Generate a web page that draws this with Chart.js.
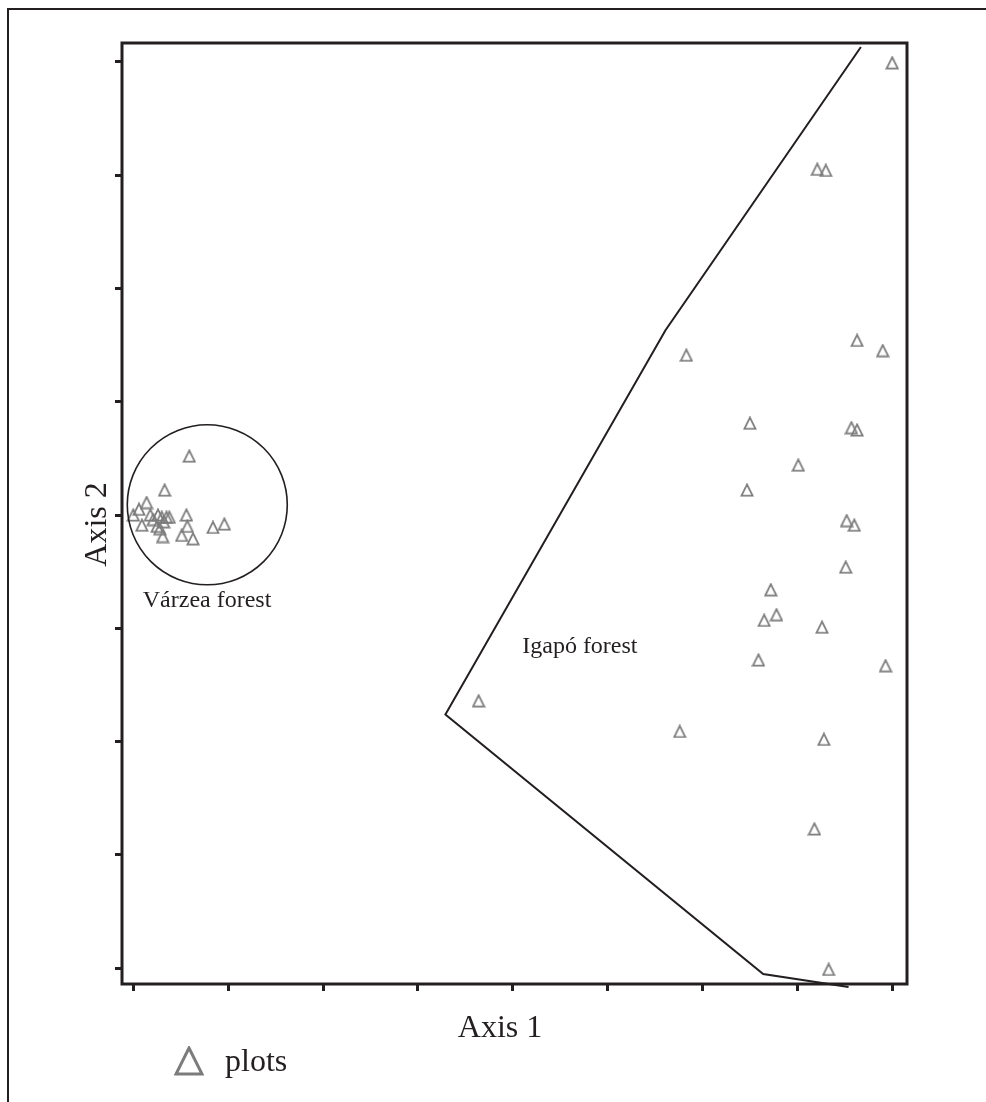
<!DOCTYPE html>
<html>
<head>
<meta charset="utf-8">
<script src="https://cdn.jsdelivr.net/npm/chart.js@4.4.0/dist/chart.umd.min.js"></script>
<style>
  html, body { margin: 0; padding: 0; background: #fff; }
  #wrap { width: 986px; height: 1102px; }
</style>
</head>
<body>
<div id="wrap"><canvas id="ordChart" width="986" height="1102"></canvas></div>
<script>
// ordination scores (tick units, ticks unlabelled)
const igapoX = [8.00, 7.21, 7.30, 5.83, 7.63, 7.90, 6.50, 7.57, 7.63, 7.01, 6.47, 7.52, 7.60,
                7.51, 6.72, 6.65, 6.78, 7.26, 6.59, 7.93, 3.64, 5.76, 7.28, 7.18, 7.33];
const igapoY = [7.99, 7.05, 7.04, 5.41, 5.54, 5.45, 4.81, 4.77, 4.75, 4.44, 4.22, 3.95, 3.91,
                3.54, 3.34, 3.07, 3.12, 3.01, 2.72, 2.67, 2.36, 2.09, 2.02, 1.23, -0.01];

const varzeaX = [0.59, 0.33, 0.14, 0.06, 0.00, 0.09, 0.26, 0.30, 0.35, 0.38, 0.21, 0.25,
                 0.28, 0.56, 0.57, 0.51, 0.63, 0.31, 0.84, 0.96, 0.18, 0.32];
const varzeaY = [4.52, 4.22, 4.11, 4.05, 4.00, 3.91, 4.00, 3.98, 3.98, 3.98, 3.96, 3.90,
                 3.88, 4.00, 3.90, 3.82, 3.79, 3.81, 3.89, 3.92, 4.00, 3.94];

// igapó hull outline
const hullX = [7.67, 5.61, 3.29, 6.64, 7.54];
const hullY = [8.13, 5.63, 2.24, -0.05, -0.165];

// várzea circle centre
const circleX = [0.78];
const circleY = [4.09];

const tickValues = [0, 1, 2, 3, 4, 5, 6, 7, 8];

const ink = '#231f20';
const markerGrey = '#7c7c7c';
const serif = '"Liberation Serif", "Times New Roman", serif';

function toPoints(xs, ys) {
  return xs.map((v, i) => ({ x: v, y: ys[i] }));
}

function makeTriangle(size, lw, colour) {
  const c = document.createElement('canvas');
  c.width = size;
  c.height = size;
  const g = c.getContext('2d');
  const m = lw / 2 + 0.5;
  g.strokeStyle = colour;
  g.lineWidth = lw;
  g.lineJoin = 'miter';
  g.beginPath();
  g.moveTo(size / 2, m);
  g.lineTo(size - m, size - m);
  g.lineTo(m, size - m);
  g.closePath();
  g.stroke();
  return c;
}

const plotMarker = makeTriangle(14, 1.8, markerGrey);
const legendMarker = makeTriangle(30, 3, markerGrey);

const decor = {
  id: 'decor',
  beforeDraw(chart) {
    const ctx = chart.ctx;
    ctx.save();
    ctx.fillStyle = '#fff';
    ctx.fillRect(0, 0, chart.width, chart.height);
    ctx.restore();
  },
  afterDraw(chart) {
    const { ctx, chartArea: a, scales: { x, y } } = chart;
    ctx.save();

    // outer figure frame (only top and left survive the crop)
    ctx.strokeStyle = ink;
    ctx.lineWidth = 2;
    ctx.beginPath();
    ctx.moveTo(8, chart.height);
    ctx.lineTo(8, 9);
    ctx.lineTo(chart.width, 9);
    ctx.stroke();

    // plot box
    ctx.lineWidth = 3;
    ctx.strokeRect(a.left, a.top, a.right - a.left, a.bottom - a.top);

    // group labels
    ctx.fillStyle = ink;
    ctx.textAlign = 'left';
    ctx.textBaseline = 'alphabetic';
    ctx.font = '24px ' + serif;
    ctx.fillText('Várzea forest', x.getPixelForValue(0.10), y.getPixelForValue(3.19));
    ctx.fillText('Igapó forest', x.getPixelForValue(4.10), y.getPixelForValue(2.78));

    // axis titles
    ctx.font = '32px ' + serif;
    ctx.textAlign = 'center';
    ctx.fillText('Axis 1', 500, 1037);
    ctx.save();
    ctx.translate(106, (a.top + a.bottom) / 2 + 11);
    ctx.rotate(-Math.PI / 2);
    ctx.fillText('Axis 2', 0, 0);
    ctx.restore();

    // legend
    ctx.drawImage(legendMarker, 174, 1046);
    ctx.textAlign = 'left';
    ctx.fillText('plots', 225, 1071);

    ctx.restore();
  }
};

new Chart(document.getElementById('ordChart'), {
  type: 'scatter',
  data: {
    datasets: [
      {
        label: 'hull',
        data: toPoints(hullX, hullY),
        showLine: true,
        borderColor: ink,
        borderWidth: 2,
        pointRadius: 0,
        tension: 0,
        clip: false
      },
      {
        label: 'circle',
        data: toPoints(circleX, circleY),
        pointStyle: 'circle',
        pointRadius: 80,
        pointBorderWidth: 1.6,
        borderColor: ink,
        backgroundColor: 'rgba(0,0,0,0)'
      },
      {
        label: 'plots',
        data: toPoints(varzeaX, varzeaY).concat(toPoints(igapoX, igapoY)),
        pointStyle: plotMarker,
        pointRadius: 7
      }
    ]
  },
  options: {
    responsive: false,
    animation: false,
    events: [],
    devicePixelRatio: 1,
    layout: { autoPadding: false, padding: { left: 115, right: 79, top: 43, bottom: 111 } },
    plugins: {
      legend: { display: false },
      tooltip: { enabled: false }
    },
    scales: {
      x: {
        type: 'linear',
        min: -0.119,
        max: 8.156,
        afterBuildTicks: s => { s.ticks = tickValues.map(v => ({ value: v })); },
        ticks: { display: false },
        border: { display: false },
        grid: { drawOnChartArea: false, drawTicks: true, tickLength: 7, color: ink, lineWidth: 3 }
      },
      y: {
        type: 'linear',
        min: -0.1385,
        max: 8.165,
        afterBuildTicks: s => { s.ticks = tickValues.map(v => ({ value: v })); },
        ticks: { display: false },
        border: { display: false },
        grid: { drawOnChartArea: false, drawTicks: true, tickLength: 7, color: ink, lineWidth: 3 }
      }
    }
  },
  plugins: [decor]
});
</script>
</body>
</html>
